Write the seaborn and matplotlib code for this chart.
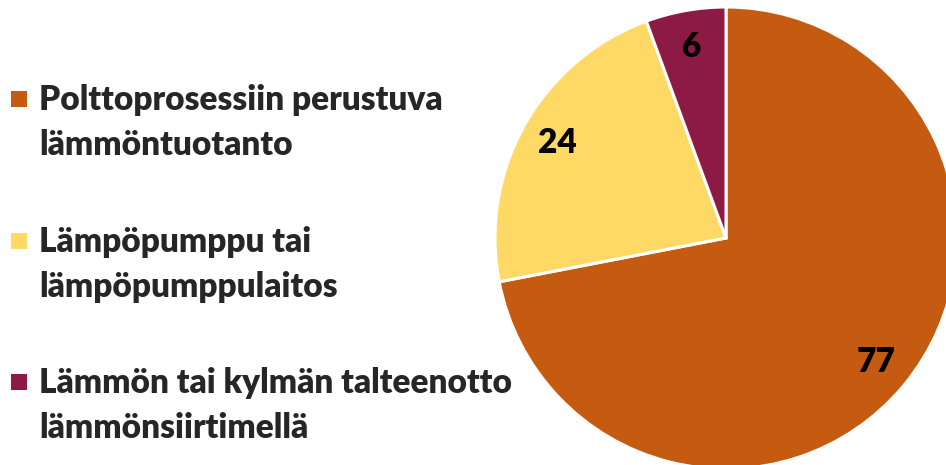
import matplotlib
matplotlib.use("Agg")
import matplotlib.pyplot as plt
from matplotlib.patches import Rectangle
import seaborn as sns

# Data
categories = ["Polttoprosessiin perustuva\nlämmöntuotanto",
              "Lämpöpumppu tai\nlämpöpumppulaitos",
              "Lämmön tai kylmän talteenotto\nlämmönsiirtimellä"]
values = [77, 24, 6]
colors = ["#C55A11", "#FFD966", "#8C1A44"]

sns.set_theme(style="white")
plt.rcParams['font.family'] = ['Lato', 'DejaVu Sans']

W, H = 946, 465
fig = plt.figure(figsize=(W / 100, H / 100), dpi=100)

# pie axes: centre ~ (726, 238) px from top-left, radius ~231 px
cx, cy, r = 726, H - 238, 231
ax = fig.add_axes([(cx - r) / W, (cy - r) / H, 2 * r / W, 2 * r / H])

total = sum(values)
wedges, texts, autotexts = ax.pie(
    values, colors=colors, startangle=90, counterclock=False,
    radius=1, pctdistance=0.84,
    autopct=lambda p: f"{round(p * total / 100):d}",
    wedgeprops=dict(edgecolor="white", linewidth=2.2),
    textprops=dict(fontsize=24, fontweight="heavy", color="black"),
)
ax.set_xlim(-1, 1)
ax.set_ylim(-1, 1)
ax.axis("off")
for w in wedges:
    w.set_clip_on(False)

# legend on the left: square aligned with the first line of each label
first_baseline = [110, 252, 393]   # px from top
line_pitch = 45
for lab, col, base in zip(categories, colors, first_baseline):
    sq_c = base - 11
    fig.add_artist(Rectangle((11 / W, (H - sq_c - 8) / H), 16 / W, 16 / H,
                             transform=fig.transFigure, color=col, lw=0))
    for k, line in enumerate(lab.split("\n")):
        fig.text(39 / W, (H - base - k * line_pitch) / H, line,
                 fontsize=24, fontweight="heavy", va="baseline", ha="left")

fig.savefig("out.png", dpi=100)
